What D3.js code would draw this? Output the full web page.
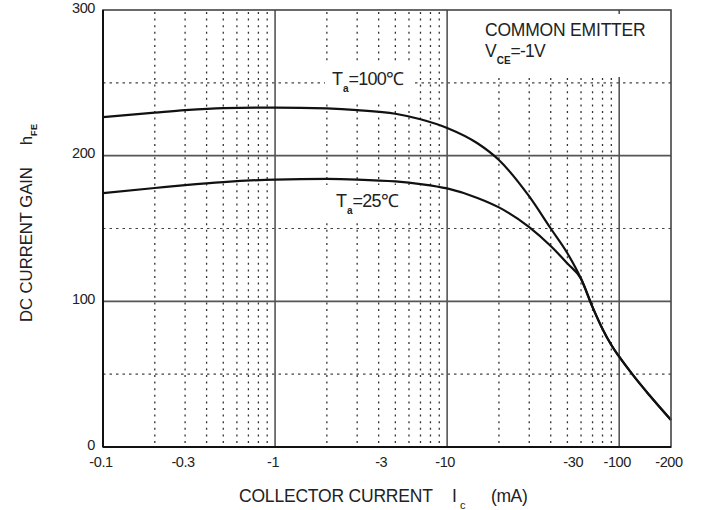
<!DOCTYPE html>
<html>
<head>
<meta charset="utf-8">
<script src="https://cdn.jsdelivr.net/npm/d3@7"></script>
<style>
  html, body { margin: 0; padding: 0; background: #fff; }
  svg { display: block; font-family: 'Liberation Sans', Arial, sans-serif; }
</style>
</head>
<body>
<svg id="chart" width="703" height="510"></svg>
<script>
// ── DATA ──────────────────────────────────────────────────────────────────────

// collector current |Ic| in mA
const currents = [0.1, 0.2, 0.3, 0.5, 1, 2, 3, 5, 7, 10, 15, 20, 30, 40, 50, 60, 70, 80, 90, 100, 120, 150, 200];
const gain100  = [226.5, 229.5, 231.2, 232.6, 233, 232.4, 231.3, 228.8, 225, 219, 208.5, 197, 172, 150, 133, 115.5, 96, 81, 70, 62, 49.5, 35.5, 18.5];
const gain25   = [174.3, 177.8, 179.8, 181.9, 183.6, 184, 183.6, 182.3, 180.5, 177.5, 171, 164.5, 151, 138, 126, 115.5, 96, 81, 70, 62, 49.5, 35.5, 18.5];

const xTickLabels = ['-0.1', '-0.3', '-1', '-3', '-10', '-30', '-100', '-200'];
const xTickAt     = [0.1, 0.3, 1, 4.25, 10, 55.5, 100, 200];   // where the sheet prints them
const yTicks      = [0, 100, 200, 300];

const xMajor  = [1, 10, 100];
const xMinor  = [0.2, 0.3, 0.4, 0.5, 0.6, 0.7, 0.8, 0.9, 2, 3, 4, 5, 6, 7, 8, 9, 20, 30, 40, 50, 60, 70, 80, 90];
const yMajor  = [100, 200];
const yMinor  = [50, 150, 250];

// ── SETUP ─────────────────────────────────────────────────────────────────────

const svg = d3.select('#chart');
const L = 103, R = 671, T = 10, B = 447;

const x = d3.scaleLog().domain([0.1, 200]).range([L, R]);
const y = d3.scaleLinear().domain([0, 300]).range([B, T]);

const INK  = '#222';
const GRID = '#555';

// ── GRID ──────────────────────────────────────────────────────────────────────

const grid = svg.append('g');

grid.selectAll('.vminor').data(xMinor).join('line')
  .attr('x1', d => x(d)).attr('x2', d => x(d))
  .attr('y1', T + 2).attr('y2', B)
  .attr('stroke', '#333').attr('stroke-width', 1.3)
  .attr('stroke-dasharray', '2,4.6');

grid.selectAll('.hminor').data(yMinor).join('line')
  .attr('x1', L).attr('x2', R)
  .attr('y1', d => y(d)).attr('y2', d => y(d))
  .attr('stroke', '#444').attr('stroke-width', 1.2)
  .attr('stroke-dasharray', '2.5,4');

grid.selectAll('.vmajor').data(xMajor).join('line')
  .attr('x1', d => x(d)).attr('x2', d => x(d))
  .attr('y1', T).attr('y2', B)
  .attr('stroke', GRID).attr('stroke-width', 1.6);

grid.selectAll('.hmajor').data(yMajor).join('line')
  .attr('x1', L).attr('x2', R)
  .attr('y1', d => y(d)).attr('y2', d => y(d))
  .attr('stroke', GRID).attr('stroke-width', 1.6);

// white boxes behind the in-plot notes
svg.append('rect').attr('x', x(11)).attr('y', T + 1).attr('width', R - x(11) - 1).attr('height', y(254) - T - 1).attr('fill', '#fff');
svg.append('rect').attr('x', 325).attr('y', 63).attr('width', 87).attr('height', 37).attr('fill', '#fff');
svg.append('rect').attr('x', 326).attr('y', 185).attr('width', 84).attr('height', 36).attr('fill', '#fff');

// small tick at top of the -100 line
svg.append('line')
  .attr('x1', x(100)).attr('x2', x(100)).attr('y1', T).attr('y2', T + 4)
  .attr('stroke', GRID).attr('stroke-width', 1.6);

// ── CURVES ────────────────────────────────────────────────────────────────────

const line = d3.line()
  .x(d => x(d[0]))
  .y(d => y(d[1]))
  .curve(d3.curveMonotoneX);

[gain100, gain25].forEach(series => {
  svg.append('path')
    .datum(currents.map((c, i) => [c, series[i]]))
    .attr('fill', 'none')
    .attr('stroke', '#111')
    .attr('stroke-width', 2.2)
    .attr('d', line);
});

// ── FRAME ─────────────────────────────────────────────────────────────────────

svg.append('rect')
  .attr('x', L).attr('y', T).attr('width', R - L).attr('height', B - T)
  .attr('fill', 'none').attr('stroke', '#444').attr('stroke-width', 1.6);
svg.append('line').attr('x1', L).attr('x2', L).attr('y1', T).attr('y2', B).attr('stroke', '#111').attr('stroke-width', 2);
svg.append('line').attr('x1', L).attr('x2', R).attr('y1', B).attr('y2', B).attr('stroke', '#111').attr('stroke-width', 2);

// ── TICK LABELS ───────────────────────────────────────────────────────────────

svg.selectAll('.ylab').data(yTicks).join('text')
  .attr('x', 95).attr('y', d => y(d) - 1)
  .attr('text-anchor', 'end').attr('dominant-baseline', 'middle')
  .attr('font-size', 14.5).attr('letter-spacing', -0.4).attr('fill', INK)
  .text(d => d);

svg.selectAll('.xlab').data(xTickLabels).join('text')
  .attr('x', (d, i) => x(xTickAt[i]) - 2).attr('y', 467)
  .attr('text-anchor', 'middle')
  .attr('font-size', 14.5).attr('letter-spacing', -0.4).attr('fill', INK)
  .text(d => d);

// ── AXIS TITLES ───────────────────────────────────────────────────────────────

svg.append('text').attr('x', 239).attr('y', 502)
  .attr('font-size', 17.5).attr('letter-spacing', -0.2).attr('fill', INK)
  .text('COLLECTOR CURRENT');
svg.append('text').attr('x', 452).attr('y', 502)
  .attr('font-size', 17.5).attr('fill', INK).text('I');
svg.append('text').attr('x', 460).attr('y', 509)
  .attr('font-size', 11).attr('fill', INK).text('c');
svg.append('text').attr('x', 491).attr('y', 502)
  .attr('font-size', 17.5).attr('letter-spacing', -0.4).attr('fill', INK).text('(mA)');

const yt = svg.append('text')
  .attr('transform', 'translate(32,322) rotate(-90)')
  .attr('font-size', 16.8).attr('letter-spacing', -0.1).attr('fill', INK);
yt.append('tspan').text('DC CURRENT GAIN');
yt.append('tspan').attr('dx', 22).text('h');
yt.append('tspan').attr('dy', 5).attr('font-size', 9).attr('font-weight', 'bold').attr('letter-spacing', 0.5).text('FE');

// ── NOTES ─────────────────────────────────────────────────────────────────────

svg.append('text').attr('x', 485).attr('y', 36)
  .attr('font-size', 17.5).attr('letter-spacing', -0.2).attr('fill', INK)
  .text('COMMON EMITTER');
const vce = svg.append('text').attr('x', 485).attr('y', 57)
  .attr('font-size', 17.5).attr('fill', INK);
vce.append('tspan').text('V');
vce.append('tspan').attr('dy', 7).attr('font-size', 10).attr('font-weight', 'bold').text('CE');
vce.append('tspan').attr('dy', -7).attr('letter-spacing', -0.8).text('=-1V');

function tempLabel(px, py, t) {
  const g = svg.append('text').attr('x', px).attr('y', py)
    .attr('font-size', 18).attr('fill', INK);
  g.append('tspan').text('T');
  g.append('tspan').attr('dy', 7).attr('font-size', 10).attr('font-weight', 'bold').text('a');
  g.append('tspan').attr('dy', -7).attr('letter-spacing', -0.8).text('=' + t + '℃');
}
tempLabel(332, 85, '100');
tempLabel(336, 207, '25');
</script>
</body>
</html>
